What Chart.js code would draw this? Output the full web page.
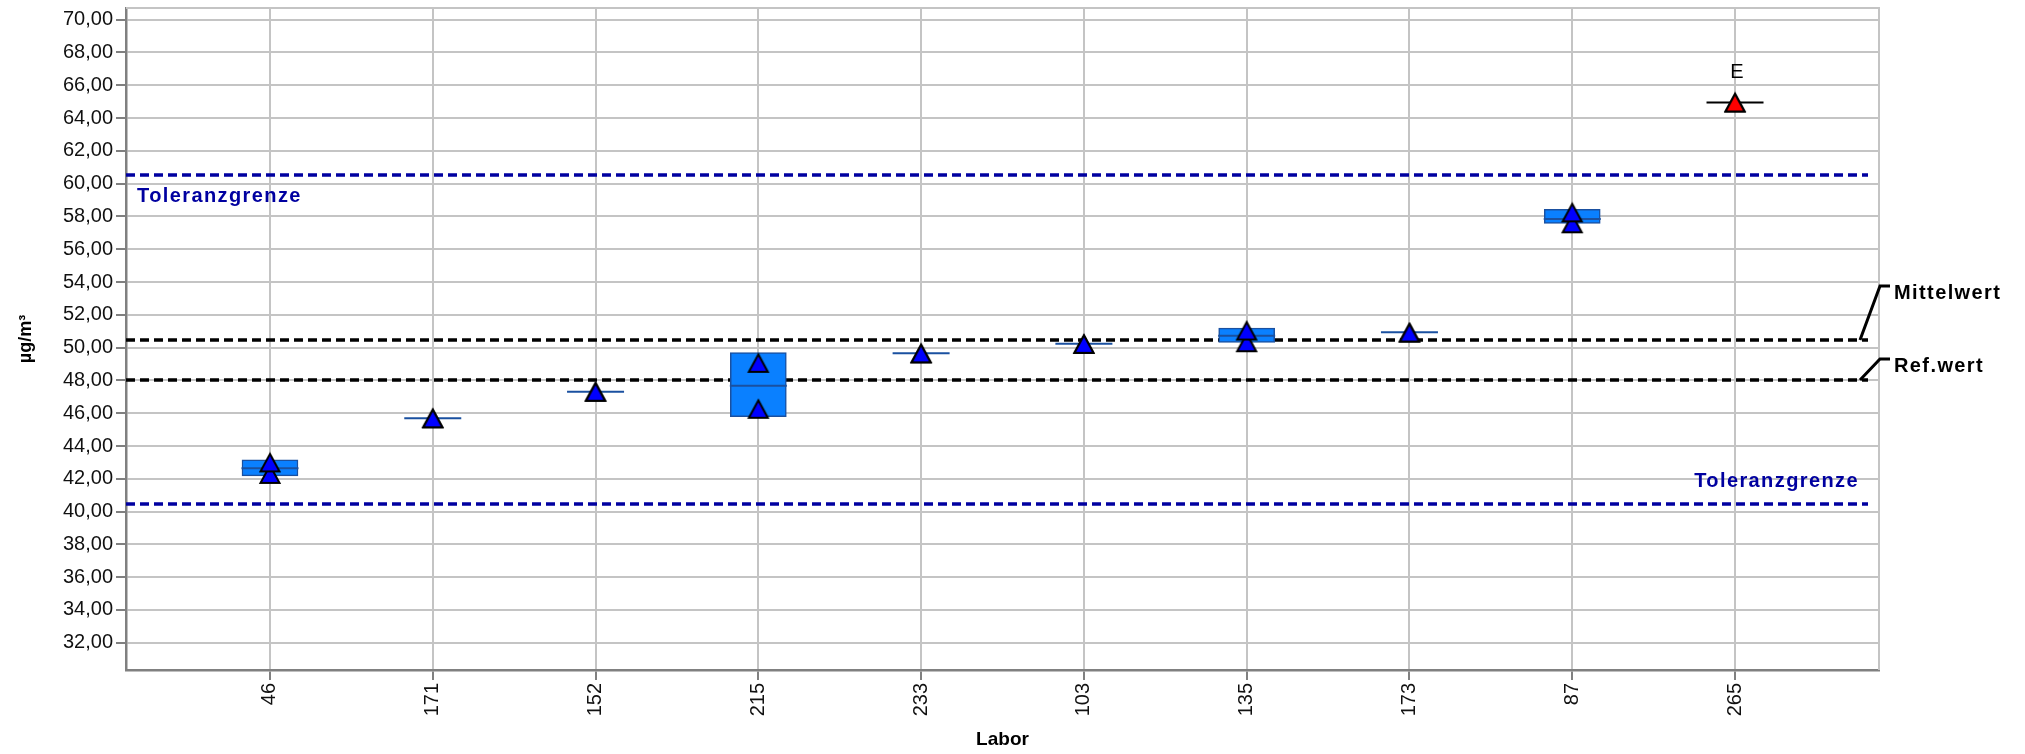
<!DOCTYPE html>
<html>
<head>
<meta charset="utf-8">
<script src="https://cdn.jsdelivr.net/npm/chart.js@4.4.1/dist/chart.umd.min.js"></script>
<style>
  html, body { margin: 0; padding: 0; background: #ffffff; }
  #wrap { width: 2025px; height: 754px; }
</style>
</head>
<body>
<div id="wrap"><canvas id="chart" width="2025" height="754"></canvas></div>
<script>
// Laboratories in plotting order
const labs = ['46', '171', '152', '215', '233', '103', '135', '173', '87', '265'];
// Box range per laboratory (null = no box, only a centre line)
const boxLow  = [42.18, null, null, 45.79, null, null, 50.32, null, 57.57, null];
const boxHigh = [43.15, null, null, 49.69, null, null, 51.19, null, 58.43, null];
// Centre line of each laboratory
const centerValues = [42.65, 45.69, 47.31, 47.68, 49.65, 50.23, 50.73, 50.93, 57.84, 64.95];
// Individual results (two per laboratory)
const result1 = [43.00, 45.69, 47.31, 49.07, 49.65, 50.23, 51.04, 50.92, 58.25, 64.95];
const result2 = [42.30, 45.69, 47.31, 46.27, 49.65, 50.23, 50.33, 50.92, 57.58, 64.95];
// Flags written above a laboratory's result
const flags = ['', '', '', '', '', '', '', '', '', 'E'];
// Value axis ticks
const yTicks = [32, 34, 36, 38, 40, 42, 44, 46, 48, 50, 52, 54, 56, 58, 60, 62, 64, 66, 68, 70];
// Reference values
const tolUpper = 60.55;
const tolLower = 40.45;
const meanValue = 50.46;
const refValue = 48.03;

const FONT = '"Liberation Sans", Arial, Helvetica, sans-serif';
Chart.defaults.font.family = FONT;
Chart.defaults.color = '#000';

function triangleImage(fill) {
  const c = document.createElement('canvas');
  c.width = 24; c.height = 22;
  const g = c.getContext('2d');
  g.beginPath();
  g.moveTo(12, 2.5);
  g.lineTo(21.5, 20);
  g.lineTo(2.5, 20);
  g.closePath();
  g.fillStyle = fill;
  g.fill();
  g.lineWidth = 2;
  g.lineJoin = 'miter';
  g.strokeStyle = '#000';
  g.stroke();
  return c;
}
const blueTri = triangleImage('#0000ff');
const redTri = triangleImage('#ff0000');
const triStyles = labs.map((_, i) => flags[i] ? redTri : blueTri);

const boxData = labs.map((_, i) => boxLow[i] == null ? null : { x: i, y: [boxLow[i], boxHigh[i]] }).filter(Boolean);
const centerData = labs.map((_, i) => ({ x: i, y: centerValues[i] }));
const r1Data = labs.map((_, i) => ({ x: i, y: result1[i] }));
const r2Data = labs.map((_, i) => ({ x: i, y: result2[i] }));

const refLines = {
  id: 'refLines',
  beforeDatasetsDraw(chart) {
    const { ctx, chartArea: a, scales: { y } } = chart;
    ctx.save();
    // frame on the top and right side
    ctx.strokeStyle = '#c4c4c4';
    ctx.lineWidth = 2;
    ctx.beginPath();
    ctx.moveTo(a.left, a.top);
    ctx.lineTo(a.right, a.top);
    ctx.lineTo(a.right, a.bottom);
    ctx.stroke();

    const end = a.right - 11;
    const lines = [[tolUpper, '#0000a0'], [tolLower, '#0000a0'], [meanValue, '#000000'], [refValue, '#000000']];
    ctx.lineWidth = 3.5;
    ctx.setLineDash([9, 5]);
    lines.forEach(([v, col]) => {
      const py = Math.round(y.getPixelForValue(v));
      ctx.strokeStyle = col;
      ctx.beginPath();
      ctx.moveTo(a.left, py);
      ctx.lineTo(end, py);
      ctx.stroke();
    });
    ctx.setLineDash([]);

    ctx.font = 'bold 20px ' + FONT;
    ctx.letterSpacing = '1.4px';
    ctx.fillStyle = '#0000a0';
    ctx.textBaseline = 'middle';
    ctx.textAlign = 'left';
    ctx.fillText('Toleranzgrenze', a.left + 11, y.getPixelForValue(tolUpper) + 22);
    ctx.textAlign = 'right';
    ctx.fillText('Toleranzgrenze', a.right - 20, y.getPixelForValue(tolLower) - 22.5);
    ctx.restore();
  },
  afterDatasetsDraw(chart) {
    const { ctx, chartArea: a, scales: { x, y } } = chart;
    ctx.save();
    // leader lines to the labels on the right
    const tags = [[meanValue, 'Mittelwert', 54], [refValue, 'Ref.wert', 21]];
    ctx.strokeStyle = '#000';
    ctx.lineWidth = 3;
    ctx.font = 'bold 20px ' + FONT;
    ctx.letterSpacing = '1.4px';
    ctx.fillStyle = '#000';
    ctx.textBaseline = 'middle';
    ctx.textAlign = 'left';
    tags.forEach(([v, text, rise]) => {
      const py = Math.round(y.getPixelForValue(v));
      const top = py - rise;
      ctx.beginPath();
      ctx.moveTo(a.right - 19, py);
      ctx.lineTo(a.right + 1, top);
      ctx.lineTo(a.right + 11, top);
      ctx.stroke();
      ctx.fillText(text, a.right + 15, top + 7);
    });
    // flags above results
    ctx.letterSpacing = '0px';
    ctx.font = '20px ' + FONT;
    ctx.textAlign = 'center';
    flags.forEach((f, i) => {
      if (!f) return;
      const top = Math.max(result1[i], result2[i], centerValues[i]);
      ctx.fillText(f, x.getPixelForValue(i) + 2, y.getPixelForValue(top) - 30);
    });
    ctx.restore();
  }
};

new Chart(document.getElementById('chart'), {
  type: 'scatter',
  data: {
    datasets: [
      {
        type: 'bar',
        data: boxData,
        backgroundColor: '#0a80ff',
        borderColor: '#1a50a0',
        borderWidth: 1.5,
        borderSkipped: false,
        barThickness: 56,
        grouped: false,
        order: 3
      },
      {
        data: centerData,
        pointStyle: 'line',
        pointRadius: 28.5,
        pointBorderWidth: 2,
        pointBorderColor: labs.map((_, i) => flags[i] ? '#000000' : '#1a50a0'),
        order: 2
      },
      {
        data: r2Data,
        pointStyle: triStyles,
        pointRadius: 10,
        order: 1
      },
      {
        data: r1Data,
        pointStyle: triStyles,
        pointRadius: 10,
        order: 0
      }
    ]
  },
  options: {
    responsive: false,
    animation: false,
    events: [],
    devicePixelRatio: 1,
    layout: { autoPadding: false, padding: { top: 8, right: 146, left: 0, bottom: 0 } },
    plugins: { legend: { display: false }, tooltip: { enabled: false } },
    scales: {
      x: {
        type: 'linear',
        min: -0.8845,
        max: 9.8845,
        offset: false,
        afterBuildTicks: s => { s.ticks = labs.map((_, i) => ({ value: i })); },
        afterFit: s => { s.height = 84; s.paddingLeft = 0; s.paddingRight = 0; },
        ticks: {
          callback: v => labs[v] ?? '',
          autoSkip: false,
          minRotation: 90,
          maxRotation: 90,
          padding: 3,
          color: '#111',
          font: { size: 20 }
        },
        grid: { color: '#c4c4c4', lineWidth: 2, offset: false, tickLength: 10, tickColor: '#808080', tickWidth: 2 },
        border: { color: '#808080', width: 2.5 },
        title: { display: true, text: 'Labor', color: '#000', font: { size: 19, weight: 'bold' }, padding: { top: 0, bottom: 3 } }
      },
      y: {
        type: 'linear',
        min: 30.34,
        max: 70.71,
        beginAtZero: false,
        afterBuildTicks: s => { s.ticks = yTicks.map(v => ({ value: v })); },
        afterFit: s => { s.width = 126; s.paddingTop = 0; s.paddingBottom = 0; },
        ticks: {
          callback: v => v.toFixed(2).replace('.', ','),
          padding: 3,
          color: '#111',
          font: { size: 20 }
        },
        grid: { color: '#c4c4c4', lineWidth: 2, tickLength: 10, tickColor: '#808080', tickWidth: 2 },
        border: { color: '#808080', width: 2.5 },
        title: { display: true, text: 'µg/m³', color: '#000', font: { size: 18, weight: 'bold' }, padding: { top: 15, bottom: 0 } }
      }
    }
  },
  plugins: [refLines]
});
</script>
</body>
</html>
